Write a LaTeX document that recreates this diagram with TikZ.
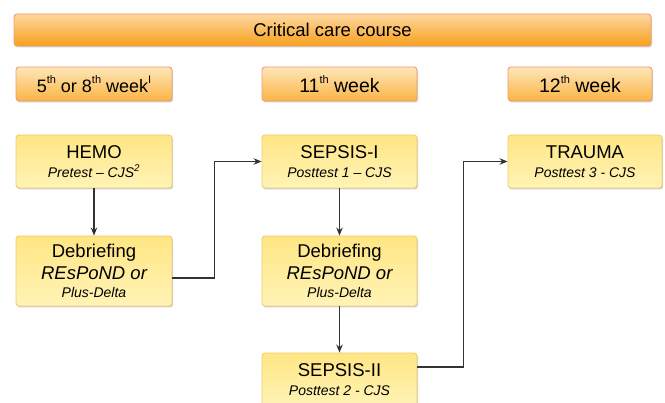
\documentclass[tikz,border=0pt]{standalone}
\usepackage{fontspec}
\setmainfont{Liberation Sans}
\usetikzlibrary{arrows.meta,shadows}
\definecolor{orTop}{HTML}{FDD8A0}
\definecolor{orBot}{HTML}{F7A01C}
\definecolor{orLine}{HTML}{EE9C72}
\definecolor{wkTop}{HTML}{FFE6B8}
\definecolor{wkBot}{HTML}{F9B444}
\definecolor{ylTop}{HTML}{FFE684}
\definecolor{ylBot}{HTML}{FFF3B6}
\definecolor{ylLine}{HTML}{F0CE6E}
\definecolor{lineGray}{HTML}{333333}
\tikzset{
  shadowed/.style={drop shadow={shadow xshift=1pt,shadow yshift=-1.5pt,opacity=0.18,fill=black}},
  topbar/.style={shadowed,draw=orLine,line width=0.9pt,rounded corners=3pt,top color=orTop,bottom color=orBot,
     minimum width=637pt,minimum height=32pt,inner sep=0pt,font=\fontsize{18.5}{22}\selectfont},
  weekbox/.style={shadowed,draw=orLine,line width=0.9pt,rounded corners=3pt,top color=wkTop,bottom color=wkBot,
     minimum height=34pt,inner sep=0pt,font=\fontsize{19.5}{22}\selectfont},
  stepbox/.style={shadowed,draw=ylLine,line width=0.9pt,rounded corners=3pt,top color=ylTop,bottom color=ylBot,
     minimum height=53pt,inner sep=0pt,align=center,font=\fontsize{18.5}{22}\selectfont},
  conn/.style={draw=lineGray,line width=1.1pt,-{Stealth[length=8pt,width=6.5pt,fill=black]}},
}
\newcommand{\subtxt}[1]{{\fontsize{14}{16}\selectfont\itshape #1}}
\newcommand{\sups}[1]{\raisebox{0.5em}{\fontsize{11}{12}\selectfont #1}}
\begin{document}
\begin{tikzpicture}[x=1pt,y=-1pt]
\useasboundingbox[fill=white] (0,0) rectangle (665,403);
\node[topbar] (course) at (332.5,30) {Critical care course};
\node[weekbox,minimum width=156pt,font=\fontsize{18}{22}\selectfont] (w1) at (94,84) {5\sups{th} or 8\sups{th} week\sups{I}};
\node[weekbox,minimum width=155pt] (w2) at (339.5,84) {11\sups{th} week};
\node[weekbox,minimum width=144pt] (w3) at (580,84) {12\sups{th} week};

\node[stepbox,minimum width=156pt] (hemo) at (94,161.5) {HEMO\\[-3.5pt]\subtxt{Pretest -- CJS\textsuperscript{2}}};
\node[stepbox,minimum width=156pt,minimum height=70pt] (deb1) at (94,271) {Debriefing\\{\itshape REsPoND or}\\[-4.5pt]\subtxt{Plus-Delta}};
\node[stepbox,minimum width=155pt] (sep1) at (339.5,161.5) {SEPSIS-I\\[-3.5pt]\subtxt{Posttest 1 -- CJS}};
\node[stepbox,minimum width=155pt,minimum height=70pt] (deb2) at (339.5,271) {Debriefing\\{\itshape REsPoND or}\\[-4.5pt]\subtxt{Plus-Delta}};
\node[stepbox,minimum width=155pt] (sep2) at (339.5,379.5) {SEPSIS-II\\[-3.5pt]\subtxt{Posttest 2 - CJS}};
\node[stepbox,minimum width=154pt] (trauma) at (585,161.5) {TRAUMA\\[-3.5pt]\subtxt{Posttest 3 - CJS}};

\draw[conn] (hemo.south) -- (deb1.north);
\draw[conn] ([yshift=-7pt]deb1.east) -- ++(42,0) |- (sep1.west);
\draw[conn] (sep1.south) -- (deb2.north);
\draw[conn] (deb2.south) -- (sep2.north);
\draw[conn] ([yshift=12.5pt]sep2.east) -- ++(46,0) |- (trauma.west);
\end{tikzpicture}
\end{document}
